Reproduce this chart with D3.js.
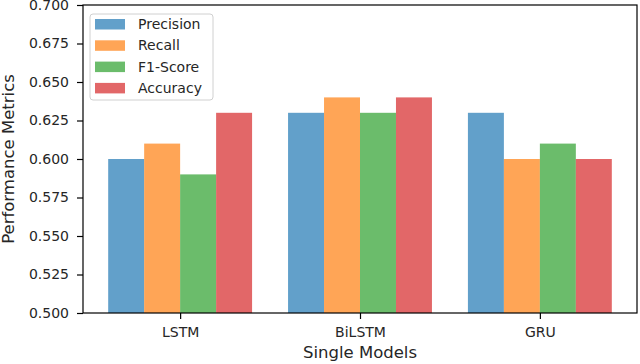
<!DOCTYPE html>
<html>
<head>
<meta charset="utf-8">
<script src="https://cdn.jsdelivr.net/npm/d3@7"></script>
<style>
  body { margin: 0; background: #fff; }
  text { font-family: "DejaVu Sans", sans-serif; fill: #262626; }
</style>
</head>
<body>
<div id="chart"></div>
<script>
var models = ["LSTM", "BiLSTM", "GRU"];
var metrics = ["Precision", "Recall", "F1-Score", "Accuracy"];
var precision = [0.60, 0.63, 0.63];
var recall = [0.61, 0.64, 0.60];
var f1Score = [0.59, 0.63, 0.61];
var accuracy = [0.63, 0.64, 0.60];
var yTicks = [0.500, 0.525, 0.550, 0.575, 0.600, 0.625, 0.650, 0.675, 0.700];
var colors = ["#1f77b4", "#ff7f0e", "#2ca02c", "#d62728"];

var seriesValues = [precision, recall, f1Score, accuracy];

var W = 640, H = 364;
var margin = {top: 5, right: 3, bottom: 51, left: 83};
var width = W - margin.left - margin.right,
    height = H - margin.top - margin.bottom;

var svg = d3.select("#chart").append("svg")
    .attr("width", W)
    .attr("height", H)
  .append("g")
    .attr("transform", "translate(" + margin.left + "," + margin.top + ")");

var barW = 0.2;
var xScale = d3.scaleLinear().domain([-0.54, 2.54]).range([0, width]);
var yScale = d3.scaleLinear().domain([0.5, 0.7]).range([height, 0]);

// bars
seriesValues.forEach(function(vals, s) {
    svg.selectAll(".bar" + s)
      .data(vals)
      .enter().append("rect")
        .attr("x", function(d, i) { return xScale(i - 0.4 + s * barW); })
        .attr("width", xScale(barW) - xScale(0))
        .attr("y", function(d) { return yScale(d); })
        .attr("height", function(d) { return height - yScale(d); })
        .style("fill", colors[s])
        .style("fill-opacity", 0.7);
});

// axes
var xAxis = d3.axisBottom(xScale)
    .tickValues([0, 1, 2])
    .tickFormat(function(d) { return models[d]; })
    .tickSize(6)
    .tickPadding(8);

var yAxis = d3.axisLeft(yScale)
    .tickValues(yTicks)
    .tickFormat(d3.format(".3f"))
    .tickSize(6)
    .tickPadding(8);

svg.append("g")
    .attr("transform", "translate(0," + height + ")")
    .call(xAxis)
    .call(function(g) { g.select(".domain").remove(); })
    .selectAll("text")
      .style("font-size", "14px");

svg.append("g")
    .call(yAxis)
    .call(function(g) { g.select(".domain").remove(); })
    .selectAll("text")
      .style("font-size", "14px");

svg.selectAll(".tick line").attr("stroke", "#000").attr("stroke-width", 1.2);

// frame
svg.append("rect")
    .attr("x", 0).attr("y", 0)
    .attr("width", width).attr("height", height)
    .style("fill", "none")
    .style("stroke", "#000")
    .style("stroke-width", 1.2);

// axis labels
svg.append("text")
    .attr("x", width / 2)
    .attr("y", height + 45)
    .attr("text-anchor", "middle")
    .style("font-size", "16.5px")
    .text("Single Models");

svg.append("text")
    .attr("transform", "translate(" + (-69) + "," + (height / 2) + ") rotate(-90)")
    .attr("text-anchor", "middle")
    .style("font-size", "16.5px")
    .text("Performance Metrics");

// legend
var legend = svg.append("g").attr("transform", "translate(7,9)");
legend.append("rect")
    .attr("width", 123).attr("height", 86)
    .attr("rx", 3)
    .style("fill", "#fff")
    .style("fill-opacity", 0.8)
    .style("stroke", "#d0d0d0");

metrics.forEach(function(m, i) {
    legend.append("rect")
        .attr("x", 5).attr("y", 5 + i * 21.3)
        .attr("width", 30).attr("height", 10.5)
        .style("fill", colors[i])
        .style("fill-opacity", 0.7);
    legend.append("text")
        .attr("x", 48).attr("y", 15 + i * 21.3)
        .style("font-size", "14px")
        .text(m);
});
</script>
</body>
</html>
